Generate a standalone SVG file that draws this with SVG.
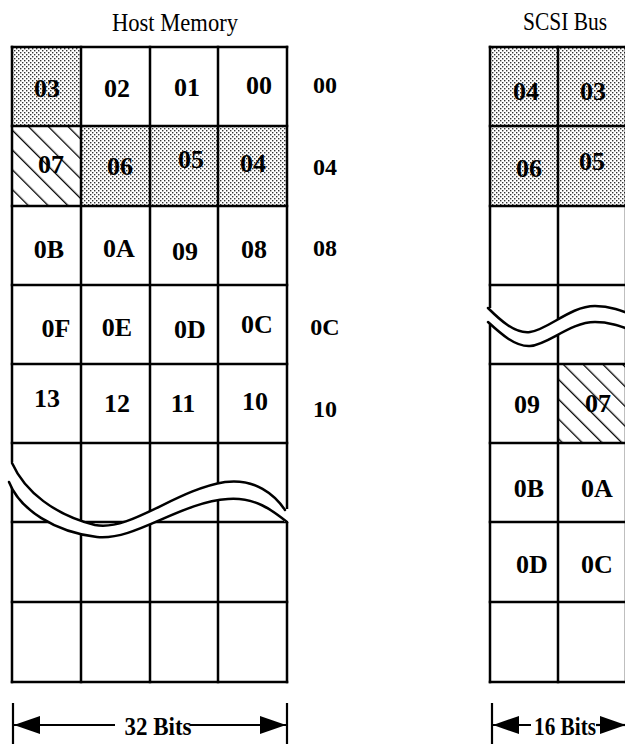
<svg xmlns="http://www.w3.org/2000/svg" width="625" height="744" viewBox="0 0 625 744">
<style>
.g{stroke:#000;stroke-width:2.5;fill:none;stroke-linecap:square}
.w{stroke:#000;stroke-width:2.5;fill:none;stroke-linecap:round}
.t{font-family:"Liberation Serif","Times New Roman",serif;fill:#000;text-anchor:middle}
.c{font-size:26px;font-weight:bold}
.o{font-size:24px;font-weight:bold}
.h{font-size:25px}
.b{font-size:26px;font-weight:bold}
.d{stroke:#000;stroke-width:2.2;fill:none}
</style>
<defs>
<pattern id="dots" patternUnits="userSpaceOnUse" width="4" height="4">
<rect x="0" y="0" width="1.4" height="1.4" fill="#333"/>
<rect x="2" y="2" width="1.4" height="1.4" fill="#333"/>
</pattern>
<pattern id="hatch" patternUnits="userSpaceOnUse" width="14" height="14" patternTransform="rotate(-45)">
<line x1="0" y1="-1" x2="0" y2="15" stroke="#000" stroke-width="2.6"/>
</pattern>
<marker id="ah" viewBox="0 0 26 18" refX="26" refY="9" markerWidth="26" markerHeight="18" markerUnits="userSpaceOnUse" orient="auto">
<path d="M0,0 L26,9 L0,18 Z" fill="#000"/>
</marker>
</defs>
<rect width="625" height="744" fill="#fff"/>

<g id="fills">
<rect x="12" y="47" width="69" height="79" fill="url(#dots)"/>
<rect x="81" y="126" width="206" height="80" fill="url(#dots)"/>
<rect x="12" y="126" width="69" height="80" fill="url(#hatch)"/>
<rect x="490" y="47" width="136" height="159" fill="url(#dots)"/>
<rect x="558" y="364" width="68" height="79" fill="url(#hatch)"/>
</g>

<g id="host-grid" class="g">
<path d="M12,47H287M12,126H287M12,206H287M12,285H287M12,364H287M12,443H287M12,522H287M12,602H287M12,682H287"/>
<path d="M12,47V682M81,47V682M150,47V682M218,47V682M287,47V682"/>
</g>
<g id="scsi-grid" class="g">
<path d="M490,47H640M490,126H640M490,206H640M490,285H640M490,364H640M490,443H640M490,522H640M490,602H640M490,682H640"/>
<path d="M490,47V682M558,47V682M626,47V682"/>
</g>

<g id="host-break">
<path d="M12,463 C25,492 55,515 95,525 C130,532 175,490 225,482 C255,478 275,495 285,510 L289,510 L289,522 L287,522 C272,510 255,497 228,499 C180,502 135,541 97,537 C55,532 20,510 9,482 Z" fill="#fff"/>
<rect x="9" y="462" width="6" height="21" fill="#fff"/>
<rect x="284" y="509" width="6" height="13" fill="#fff"/>
<path class="w" d="M12,463 C25,492 55,515 95,525 C130,532 175,490 225,482 C255,478 275,495 285,510"/>
<path class="w" d="M9,482 C20,510 55,532 97,537 C135,541 180,502 228,499 C255,497 272,510 287,522"/>
</g>
<g id="scsi-break">
<path d="M488,308 C500,320 515,334 530,332 C548,330 570,306 595,306 C610,306 620,310 640,318 L640,333 C620,326 610,322 595,322 C570,322 548,345 530,346 C515,347 500,333 488,322 Z" fill="#fff"/>
<rect x="487" y="308" width="6" height="14" fill="#fff"/>
<path class="w" d="M488,308 C500,320 515,334 530,332 C548,330 570,306 595,306 C610,306 620,310 640,318"/>
<path class="w" d="M488,322 C500,333 515,347 530,346 C548,345 570,322 595,322 C610,322 620,326 640,333"/>
</g>

<g id="title-host"><text class="t h" x="175" y="31" textLength="126" lengthAdjust="spacingAndGlyphs">Host Memory</text></g>
<g id="title-scsi"><text class="t h" x="565" y="30" textLength="84" lengthAdjust="spacingAndGlyphs">SCSI Bus</text></g>

<g id="h03"><text class="t c" x="47" y="97">03</text></g>
<g id="h02"><text class="t c" x="117" y="97">02</text></g>
<g id="h01"><text class="t c" x="187" y="96">01</text></g>
<g id="h00"><text class="t c" x="259" y="94">00</text></g>
<g id="h07"><text class="t c" x="51" y="173">07</text></g>
<g id="h06"><text class="t c" x="120" y="175">06</text></g>
<g id="h05"><text class="t c" x="191" y="168">05</text></g>
<g id="h04"><text class="t c" x="253" y="172">04</text></g>
<g id="h0B"><text class="t c" x="49" y="258">0B</text></g>
<g id="h0A"><text class="t c" x="119" y="257">0A</text></g>
<g id="h09"><text class="t c" x="185" y="260">09</text></g>
<g id="h08"><text class="t c" x="254" y="258">08</text></g>
<g id="h0F"><text class="t c" x="56" y="337">0F</text></g>
<g id="h0E"><text class="t c" x="117" y="336">0E</text></g>
<g id="h0D"><text class="t c" x="190" y="338">0D</text></g>
<g id="h0C"><text class="t c" x="257" y="333">0C</text></g>
<g id="h13"><text class="t c" x="47" y="407">13</text></g>
<g id="h12"><text class="t c" x="117" y="412">12</text></g>
<g id="h11"><text class="t c" x="183" y="412">11</text></g>
<g id="h10"><text class="t c" x="255" y="410">10</text></g>

<g id="off00"><text class="t o" x="325" y="93">00</text></g>
<g id="off04"><text class="t o" x="325" y="175">04</text></g>
<g id="off08"><text class="t o" x="325" y="256">08</text></g>
<g id="off0C"><text class="t o" x="325" y="335">0C</text></g>
<g id="off10"><text class="t o" x="325" y="417">10</text></g>

<g id="s04"><text class="t c" x="526" y="100">04</text></g>
<g id="s03"><text class="t c" x="593" y="100">03</text></g>
<g id="s06"><text class="t c" x="529" y="177">06</text></g>
<g id="s05"><text class="t c" x="592" y="170">05</text></g>
<g id="s09"><text class="t c" x="527" y="413">09</text></g>
<g id="s07"><text class="t c" x="598" y="412">07</text></g>
<g id="s0B"><text class="t c" x="529" y="497">0B</text></g>
<g id="s0A"><text class="t c" x="597" y="497">0A</text></g>
<g id="s0D"><text class="t c" x="532" y="573">0D</text></g>
<g id="s0C"><text class="t c" x="597" y="573">0C</text></g>

<g id="connectors">
<path class="d" d="M13,703V744M287,703V744"/>
<path class="d" d="M115,725H14" marker-end="url(#ah)"/>
<path class="d" d="M190,725H286" marker-end="url(#ah)"/>
<path class="d" d="M492,703V744"/>
<path class="d" d="M531,725H493" marker-end="url(#ah)"/>
<path class="d" d="M596,725H626" marker-end="url(#ah)"/>
</g>
<g id="dim32"><text class="t b" x="158" y="735" textLength="67" lengthAdjust="spacingAndGlyphs">32 Bits</text></g>
<g id="dim16"><text class="t b" x="565" y="735" textLength="62" lengthAdjust="spacingAndGlyphs">16 Bits</text></g>
</svg>
